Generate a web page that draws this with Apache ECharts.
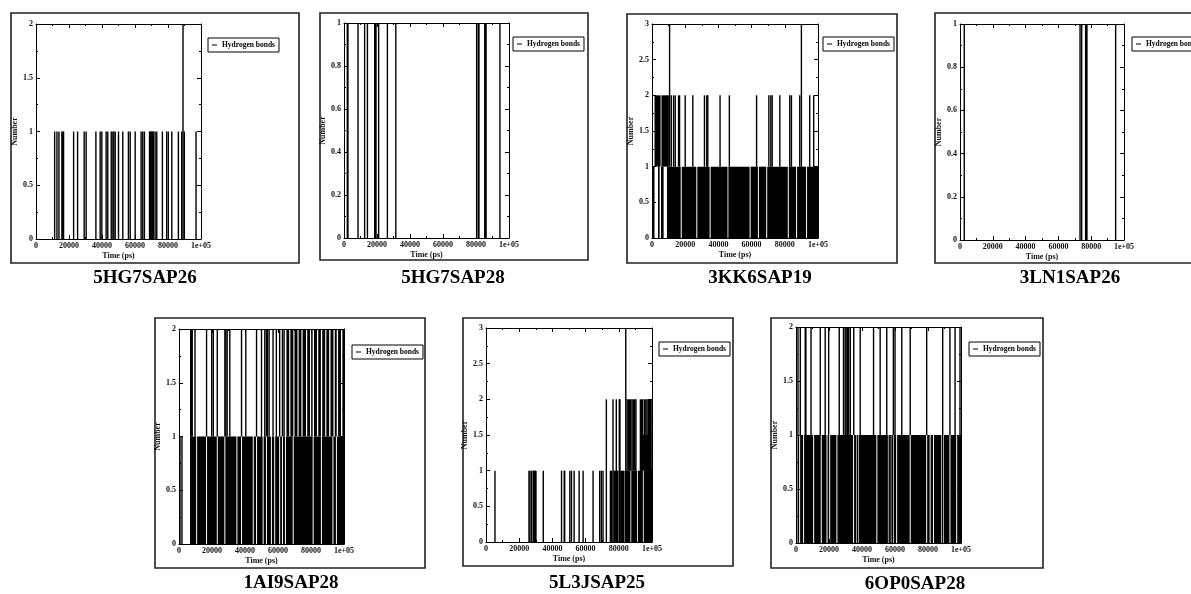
<!DOCTYPE html>
<html>
<head>
<meta charset="utf-8">
<script src="https://cdn.jsdelivr.net/npm/echarts@6/dist/echarts.min.js"></script>
<style>
html,body{margin:0;padding:0;background:#fff;}
#chart{width:1191px;height:594px;}
</style>
</head>
<body>
<div id="chart"></div>
<script>
// ---------------- DATA ----------------
const panelNames = ['5HG7SAP26','5HG7SAP28','3KK6SAP19','3LN1SAP26','1AI9SAP28','5L3JSAP25','6OP0SAP28'];
const yMaxes = [2, 1, 3, 1, 2, 3, 2];
const ySteps = [0.5, 0.2, 0.5, 0.2, 0.5, 0.5, 0.5];
const xTickValues = [0, 20000, 40000, 60000, 80000, 100000];
const xTickLabels = ['0', '20000', '40000', '60000', '80000', '1e+05'];
const seriesName = 'Hydrogen bonds';
const xName = 'Time (ps)';
const yName = 'Number';

// blocks: [tStart, tEnd, lowCount, highCount]  (time windows where the count keeps spanning low..high)
// spikes: [t, lowCount, highCount]              (single short excursions)
const blocks_5HG7SAP26 = [];
const spikes_5HG7SAP26 = [
  [11300,0,1],[12700,0,1],[13900,0,1],[15700,0,1],[16100,0,1],[16700,0,1],[22800,0,1],[25200,0,1],
  [29200,0,1],[30400,0,1],[36300,0,1],[38900,0,1],[39900,0,1],[42500,0,1],[43500,0,1],[45600,0,1],
  [46600,0,1],[47200,0,1],[48000,0,1],[50000,0,1],[52600,0,1],[56000,0,1],[57100,0,1],[60100,0,1],
  [63700,0,1],[64700,0,1],[65700,0,1],[68800,0,1],[69300,0,1],[69700,0,1],[70200,0,1],[70700,0,1],
  [71200,0,1],[72200,0,1],[73200,0,1],[76600,0,1],[79200,0,1],[80200,0,1],[82300,0,1],[86300,0,1],
  [88300,0,1],[89100,0,2],[89900,0,1],[97000,0,1]
];

const blocks_5HG7SAP28 = [];
const spikes_5HG7SAP28 = [
  [2000,0,1],[2400,0,1],[8500,0,1],[12500,0,1],[14200,0,1],[18600,0,1],[19000,0,1],[19400,0,1],
  [21000,0,1],[26300,0,1],[31400,0,1],[80400,0,1],[81400,0,1],[81800,0,1],[85300,0,1],[85700,0,1],
  [86100,0,1],[94500,0,1]
];

const blocks_3KK6SAP19 = [
  [0,1500,0,1],[3600,4600,0,1],[5400,7000,0,1],[9000,17300,0,1],[17900,26700,0,1],[27300,34700,0,1],
  [35300,45500,0,1],[46000,58800,0,1],[59400,63800,0,1],[64400,68800,0,1],[69400,81800,0,1],
  [82400,86800,0,1],[87400,92800,0,1],[93400,100000,0,1],
  [1500,5200,1,2],[5700,10200,1,2]
];
const spikes_3KK6SAP19 = [
  [10600,1,3],[11600,1,2],[13000,1,2],[14000,1,2],[16000,1,2],[16600,1,2],[20000,1,2],[24600,1,2],
  [31600,1,2],[33000,1,2],[33600,1,2],[41000,1,2],[46600,1,2],[63000,1,2],[70400,1,2],[71600,1,2],
  [72400,1,2],[77000,1,2],[83000,1,2],[84000,1,2],[89000,1,2],[90000,1,3],[95000,1,2],[97400,1,2]
];

const blocks_3LN1SAP26 = [[76700,77300,0,0.5]];
const spikes_3LN1SAP26 = [
  [2600,0,1],[73200,0,1],[74200,0,1],[76600,0,1],[77000,0,1],[77400,0,1],[94900,0,1]
];

const blocks_1AI9SAP28 = [
  [6700,10400,0,1],[11000,16400,0,1],[17000,22900,0,1],[23500,27500,0,1],[28100,34800,0,1],
  [35400,37600,0,1],[38200,44700,0,1],[45300,46700,0,1],[47300,50700,0,1],[51300,52700,0,1],
  [53300,55700,0,1],[56300,57700,0,1],[58300,60700,0,1],[61300,62400,0,1],[63000,64200,0,1],
  [64800,68900,0,1],[69500,81000,0,1],[81600,86000,0,1],[86600,93000,0,1],[93600,95100,0,1],
  [95700,100000,0,1],
  [65100,66800,1,2],[67500,69300,1,2],[70000,71800,1,2],[72500,74200,1,2],[74900,77000,1,2],
  [77700,79400,1,2],[80100,81000,1,2],[81800,83600,1,2],[84400,86000,1,2],[86800,88600,1,2],
  [89300,91000,1,2],[91800,93600,1,2],[94400,95600,1,2],[96400,98200,1,2],[99000,100000,1,2]
];
const spikes_1AI9SAP28 = [
  [600,0,1],[1800,0,1],
  [7100,1,2],[7700,1,2],[8000,1,2],[9700,1,2],[16700,1,2],[19800,1,2],[20800,1,2],[23200,1,2],
  [27800,1,2],[28400,1,2],[29200,1,2],[30800,1,2],[37900,1,2],[40500,1,2],[47000,1,2],[50000,1,2],
  [52000,1,2],[53000,1,2],[53600,1,2],[54600,1,2],[57000,1,2],[59000,1,2],[61000,1,2],[62700,1,2],
  [63700,1,2]
];

const blocks_5L3JSAP25 = [
  [74500,76200,0,1],[76800,79800,0,1],[80800,83500,0,1],[84000,87000,0,1],[87500,91000,0,1],
  [91500,94500,0,1],[95000,100000,0,1],
  [93000,99500,1,1.5]
];
const spikes_5L3JSAP25 = [
  [5400,0,1],[25900,0,1],[26500,0,1],[27500,0,1],[28500,0,1],[29200,0,1],[29700,0,1],[30100,0,1],
  [34500,0,1],[45500,0,1],[47100,0,1],[47400,0,1],[50500,0,1],[51500,0,1],[53100,0,1],[56100,0,1],
  [58500,0,1],[64500,0,1],[68500,0,1],[69500,0,1],[70500,0,1],
  [72500,0,2],[76500,0,2],[78500,0,2],[80300,0,2],[80700,0,2],[84200,0,3],
  [85000,1,2],[85800,1,2],[86400,1,2],[87200,1,2],[88000,1,2],[88800,1,2],[89600,1,2],[90300,1,2],
  [93000,1,2],[93700,1,2],[94400,1,2],[95500,1,2],[96300,1,2],[97000,1,2],[97800,1,2],[98500,1,2],
  [99200,1,2],[100000,1,2]
];

const blocks_6OP0SAP28 = [
  [0,300,0,1],[900,1900,0,1],[2500,4300,0,1],[4900,10400,0,1],[11000,15000,0,1],[15600,18500,0,1],
  [19100,20100,0,1],[20700,24500,0,1],[25100,34600,0,1],[35200,36600,0,1],[37200,37600,0,1],
  [38200,48700,0,1],[49300,55700,0,1],[56300,56700,0,1],[57300,57700,0,1],[58300,58700,0,1],
  [59300,60700,0,1],[61300,68900,0,1],[69500,78900,0,1],[79500,81000,0,1],[81600,83000,0,1],
  [83600,88000,0,1],[88600,89000,0,1],[89600,93000,0,1],[93600,97100,0,1],[97700,100000,0,1]
];
const spikes_6OP0SAP28 = [
  [1200,1,2],[2600,1,2],[5600,1,2],[6000,1,2],[9100,1,2],[14700,1,2],[17700,1,2],[19800,1,2],
  [26200,1,2],[28800,1,2],[29800,1,2],[30400,1,2],[31300,1,2],[31900,1,2],[32900,1,2],[35000,1,2],
  [38900,1,2],[47000,1,2],[51000,1,2],[55000,1,2],[59000,1,2],[60000,1,2],[64100,1,2],[69200,1,2],
  [79200,1,2],[88900,1,2],[93300,1,2],[96400,1,2],[99400,1,2]
];

const panelBlocks = [blocks_5HG7SAP26, blocks_5HG7SAP28, blocks_3KK6SAP19, blocks_3LN1SAP26, blocks_1AI9SAP28, blocks_5L3JSAP25, blocks_6OP0SAP28];
const panelSpikes = [spikes_5HG7SAP26, spikes_5HG7SAP28, spikes_3KK6SAP19, spikes_3LN1SAP26, spikes_1AI9SAP28, spikes_5L3JSAP25, spikes_6OP0SAP28];

// ---------------- LAYOUT ----------------
const grids = [
  {left:36, top:24, width:165, height:215},
  {left:344, top:23, width:165, height:215},
  {left:652, top:24, width:166, height:214},
  {left:960, top:24, width:164, height:216},
  {left:179, top:329, width:165, height:215},
  {left:486, top:328, width:166, height:214},
  {left:796, top:327, width:165, height:216}
];
const frames = [
  [11,13,288,250],[320,13,268,247],[627,14,270,249],[935,13,270,250],
  [155,318,270,250],[463,318,270,248],[771,318,272,250]
];
const legendPos = [[208,38],[513,37],[823,37],[1132,37],[352,345],[659,342],[969,342]];
const titlePos = [[145,278],[453,278],[760,278],[1070,278],[291,583],[597,583],[915,584]];

const FONT = 'Liberation Serif';
function xFmt(v){ const i = xTickValues.indexOf(v); return i >= 0 ? xTickLabels[i] : ''; }

function renderItem(params, api){
  const s = api.value(0), e = api.value(1), lo = api.value(2), hi = api.value(3);
  const a = api.coord([s, hi]), b = api.coord([e, lo]);
  let x = a[0], w = b[0] - a[0];
  const minW = 1.4;
  if (w < minW) { x -= (minW - w) / 2; w = minW; }
  return {type:'rect', shape:{x:x, y:a[1], width:w, height:b[1]-a[1]}, style:{fill:'#000'}};
}

const xAxes = [], yAxes = [], series = [], legends = [], gridOpts = [];
const tickCommon = {inside:true, length:4, lineStyle:{color:'#000', width:1}};
const minorCommon = {show:true, splitNumber:2, length:2, lineStyle:{color:'#000', width:1}};
const lineCommon = {show:true, onZero:false, lineStyle:{color:'#000', width:1}};
const labelFont = {fontSize:8, fontFamily:FONT, fontWeight:'bold', color:'#111'};

panelNames.forEach((name, i) => {
  gridOpts.push(Object.assign({containLabel:false}, grids[i]));
  xAxes.push({
    type:'value', gridIndex:i, position:'bottom', min:0, max:100000, interval:20000,
    axisLine:lineCommon, axisTick:tickCommon, minorTick:minorCommon, splitLine:{show:false},
    axisLabel:Object.assign({margin:3, formatter:xFmt}, labelFont),
    name:xName, nameLocation:'middle', nameGap:13,
    nameTextStyle:labelFont
  });
  xAxes.push({
    type:'value', gridIndex:i, position:'top', min:0, max:100000, interval:20000,
    axisLine:lineCommon, axisTick:tickCommon, minorTick:minorCommon, splitLine:{show:false},
    axisLabel:{show:false}
  });
  yAxes.push({
    type:'value', gridIndex:i, position:'left', min:0, max:yMaxes[i], interval:ySteps[i],
    axisLine:lineCommon, axisTick:tickCommon, minorTick:minorCommon, splitLine:{show:false},
    axisLabel:Object.assign({margin:3}, labelFont),
    name:yName, nameLocation:'middle', nameGap:14, nameRotate:90,
    nameTextStyle:labelFont
  });
  yAxes.push({
    type:'value', gridIndex:i, position:'right', min:0, max:yMaxes[i], interval:ySteps[i],
    axisLine:lineCommon, axisTick:tickCommon, minorTick:minorCommon, splitLine:{show:false},
    axisLabel:{show:false}
  });
  const rects = panelBlocks[i].map(b => b.slice()).concat(panelSpikes[i].map(s => [s[0], s[0], s[1], s[2]]));
  series.push({
    type:'custom', name:seriesName, xAxisIndex:2*i, yAxisIndex:2*i,
    data:rects, renderItem:renderItem, encode:{x:[0,1], y:[2,3]},
    itemStyle:{color:'#000'}, clip:true, silent:true, animation:false
  });
  legends.push({
    left:legendPos[i][0], top:legendPos[i][1], data:[seriesName], selectedMode:false,
    icon:'rect', itemWidth:5, itemHeight:1, itemGap:0, padding:[3,4,3,4],
    borderColor:'#000', borderWidth:1, borderRadius:0,
    itemStyle:{color:'#000'},
    textStyle:{fontSize:7.5, fontFamily:FONT, fontWeight:'bold', color:'#000'}
  });
});

const graphics = [];
frames.forEach(f => {
  graphics.push({type:'rect', silent:true, z:-10,
    shape:{x:f[0], y:f[1], width:f[2], height:f[3]},
    style:{fill:null, stroke:'#222', lineWidth:1.6}});
});
panelNames.forEach((name, i) => {
  graphics.push({type:'text', silent:true, x:titlePos[i][0], y:titlePos[i][1],
    style:{text:name, fill:'#000', fontSize:19, fontWeight:'bold', fontFamily:FONT,
      align:'center', verticalAlign:'middle'}});
});

const chart = echarts.init(document.getElementById('chart'), null, {renderer:'canvas'});
chart.setOption({
  animation:false,
  backgroundColor:'#fff',
  grid:gridOpts,
  xAxis:xAxes,
  yAxis:yAxes,
  legend:legends,
  series:series,
  graphic:graphics
});
</script>
</body>
</html>
